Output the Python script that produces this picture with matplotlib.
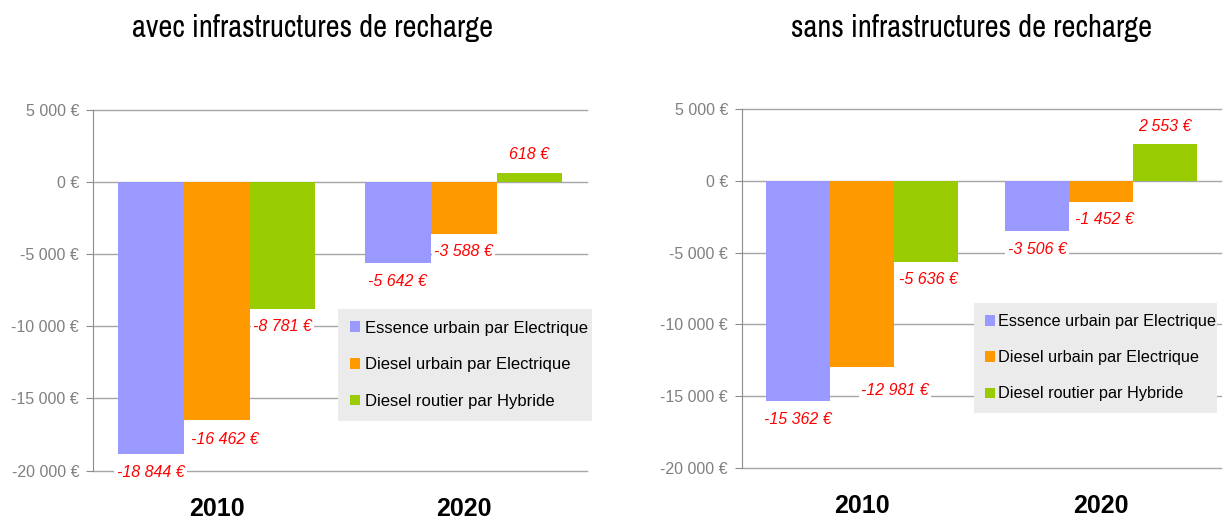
import matplotlib.pyplot as plt
from matplotlib import font_manager
from matplotlib.ticker import FuncFormatter, MultipleLocator

# Data
years = ["2010", "2020"]
series = ["Essence urbain par Electrique", "Diesel urbain par Electrique", "Diesel routier par Hybride"]
avec = [[-18844, -5642], [-16462, -3588], [-8781, 618]]
sans = [[-15362, -3506], [-12981, -1452], [-5636, 2553]]
titles = ["avec infrastructures de recharge", "sans infrastructures de recharge"]

colors = ["#9999ff", "#ff9900", "#99cc00"]

# small manual nudges (points) for a few labels, as in the original
nudges = [
    {(1, 0): (6, -1)},
    {(1, 0): (24, -4), (2, 0): (2, 0), (1, 1): (2, 0)},
]

# a narrow face for the titles, if one is installed
narrow = [f.name for f in font_manager.fontManager.ttflist
          if "Narrow" in f.name or "Condensed" in f.name]
title_family = [narrow[0], "DejaVu Sans"] if narrow else ["DejaVu Sans"]


def euro(v, pos=None):
    return f"{v:,.0f}".replace(",", " ") + " €"


def draw(ax, data, nudge):
    w = 0.267
    for i, (vals, c, name) in enumerate(zip(data, colors, series)):
        xs = [k + (i - 1) * w for k in range(len(years))]
        ax.bar(xs, vals, width=w, color=c, label=name, zorder=2)
        for j, (x, v) in enumerate(zip(xs, vals)):
            dx, dy = nudge.get((i, j), (0, 0))
            off = 13 if v > 0 else -13
            ax.annotate(euro(v), xy=(x, v), xytext=(dx, off + dy), textcoords="offset points",
                        ha="center", va="center", color="#ff0000", style="italic", fontsize=11.5,
                        family="Liberation Sans",
                        bbox=dict(boxstyle="square,pad=0.15", fc="white", ec="none"), zorder=4)
    ax.set_xlim(-0.5, 1.5)
    ax.set_ylim(-20000, 5000)
    ax.yaxis.set_major_locator(MultipleLocator(5000))
    ax.yaxis.set_major_formatter(FuncFormatter(euro))
    ax.grid(axis="y", color="#a6a6a6", lw=1, zorder=0)
    ax.set_axisbelow(True)
    for s in ["top", "right", "bottom"]:
        ax.spines[s].set_visible(False)
    ax.spines["left"].set_color("#8c8c8c")
    ax.tick_params(axis="y", length=5, color="#8c8c8c", labelcolor="#808080",
                   labelsize=11.5, pad=5)
    ax.set_xticks(range(len(years)))
    ax.set_xticklabels(years, fontsize=18, fontweight="bold", color="black")
    ax.tick_params(axis="x", length=0, pad=19)
    for t in ax.get_yticklabels() + ax.get_xticklabels():
        t.set_family("Liberation Sans")
    for gl in ax.get_ygridlines():
        gl.set_clip_on(False)


fig = plt.figure(figsize=(12.24, 5.2), dpi=100)
ax1 = fig.add_axes([0.076, 0.0948, 0.4036, 0.6946])
ax2 = fig.add_axes([0.6062, 0.100, 0.3913, 0.6904])

draw(ax1, avec, nudges[0])
draw(ax2, sans, nudges[1])

for ax, anchor, pad, size in [(ax1, (0.496, 0.143, 0.515, 0.305), 0.3, 12),
                              (ax2, (0.484, 0.158, 0.508, 0.302), 0.2, 11.7)]:
    leg = ax.legend(loc="upper left", bbox_to_anchor=anchor, mode="expand",
                    prop={"family": "Liberation Sans", "size": size},
                    handlelength=0.6, handleheight=0.6, handletextpad=pad,
                    labelspacing=1.3, borderpad=0.7, borderaxespad=0,
                    fancybox=False, frameon=True)
    leg.get_frame().set_facecolor("#ebebeb")
    leg.get_frame().set_edgecolor("none")
    leg.get_frame().set_alpha(1)
    leg.set_zorder(5)

for x, title in zip([0.255, 0.794], titles):
    fig.text(x, 0.946, title, ha="center", va="center", fontsize=22,
             family=title_family, stretch="condensed")

fig.savefig("out.png", dpi=100)
